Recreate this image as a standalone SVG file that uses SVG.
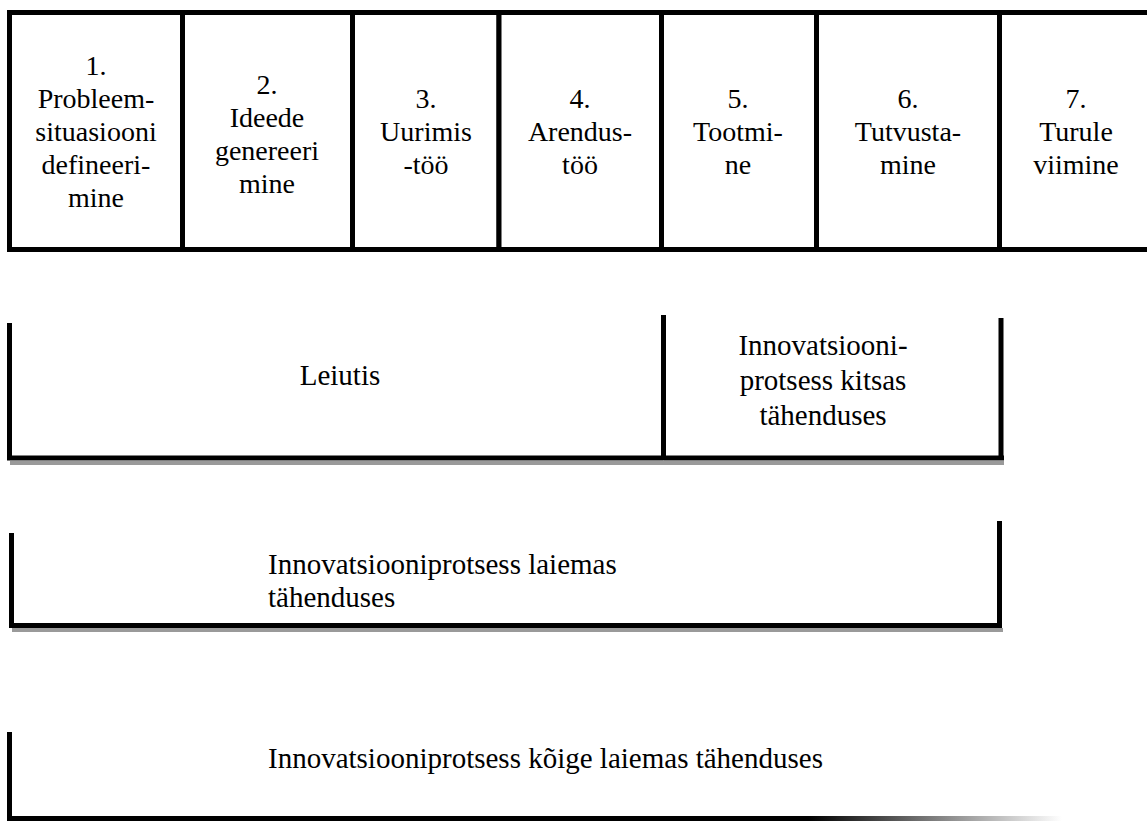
<svg xmlns="http://www.w3.org/2000/svg" width="1147" height="821" viewBox="0 0 1147 821">
<style>
  .cell { fill: #ffffff; stroke: #000000; stroke-width: 5; }
  .bar { stroke: #000000; stroke-width: 5; stroke-linecap: butt; fill: none; }
  .shadow { stroke: #9a9a9a; stroke-width: 4; fill: none; }
  .t { font-family: "Liberation Serif", "Times New Roman", serif; fill: #000000; }
  .top { font-size: 28px; text-anchor: middle; }
  .mid { font-size: 29px; }
  .c { text-anchor: middle; }
</style>
<defs>
  <linearGradient id="fade" x1="7" y1="0" x2="1062" y2="0" gradientUnits="userSpaceOnUse">
    <stop offset="0" stop-color="#000000"/>
    <stop offset="0.76" stop-color="#000000"/>
    <stop offset="1" stop-color="#ffffff"/>
  </linearGradient>
</defs>
<rect x="0" y="0" width="1147" height="821" fill="#ffffff"/>

<g id="stage1">
  <rect class="cell" x="9.5" y="12.5" width="173" height="237"/>
  <text class="t top"><tspan x="96" y="75">1.</tspan><tspan x="96" y="108">Probleem-</tspan><tspan x="96" y="141">situasiooni</tspan><tspan x="96" y="174">defineeri-</tspan><tspan x="96" y="207">mine</tspan></text>
</g>
<g id="stage2">
  <rect class="cell" x="182.5" y="12.5" width="170" height="237"/>
  <text class="t top"><tspan x="267" y="94">2.</tspan><tspan x="267" y="127">Ideede</tspan><tspan x="267" y="160">genereeri</tspan><tspan x="267" y="193">mine</tspan></text>
</g>
<g id="stage3">
  <rect class="cell" x="352.5" y="12.5" width="146.5" height="237"/>
  <text class="t top"><tspan x="426" y="108">3.</tspan><tspan x="426" y="141">Uurimis</tspan><tspan x="426" y="174">-töö</tspan></text>
</g>
<g id="stage4">
  <rect class="cell" x="499" y="12.5" width="162.5" height="237"/>
  <text class="t top"><tspan x="580" y="108">4.</tspan><tspan x="580" y="141">Arendus-</tspan><tspan x="580" y="174">töö</tspan></text>
</g>
<g id="stage5">
  <rect class="cell" x="661.5" y="12.5" width="155" height="237"/>
  <text class="t top"><tspan x="738" y="108">5.</tspan><tspan x="738" y="141">Tootmi-</tspan><tspan x="738" y="174">ne</tspan></text>
</g>
<g id="stage6">
  <rect class="cell" x="816.5" y="12.5" width="183" height="237"/>
  <text class="t top"><tspan x="908" y="108">6.</tspan><tspan x="908" y="141">Tutvusta-</tspan><tspan x="908" y="174">mine</tspan></text>
</g>
<g id="stage7">
  <rect class="cell" x="999.5" y="12.5" width="160" height="237"/>
  <text class="t top"><tspan x="1076" y="108">7.</tspan><tspan x="1076" y="141">Turule</tspan><tspan x="1076" y="174">viimine</tspan></text>
</g>

<g id="leiutis">
  <line class="shadow" x1="10" y1="463" x2="1004" y2="463"/>
  <line class="bar" x1="9.5" y1="323" x2="9.5" y2="460"/>
  <line class="bar" x1="7" y1="458" x2="663.5" y2="458"/>
  <text class="t mid c" x="340" y="385">Leiutis</text>
</g>
<g id="kitsas">
  <line class="bar" x1="663.5" y1="315" x2="663.5" y2="460"/>
  <line class="bar" x1="663.5" y1="458" x2="1004" y2="458"/>
  <line class="bar" x1="1001" y1="318" x2="1001" y2="460"/>
  <text class="t mid c"><tspan x="823" y="355">Innovatsiooni-</tspan><tspan x="823" y="390">protsess kitsas</tspan><tspan x="823" y="425">tähenduses</tspan></text>
</g>
<g id="laiemas">
  <line class="shadow" x1="12" y1="630" x2="1003" y2="630"/>
  <line class="bar" x1="11.5" y1="533" x2="11.5" y2="628"/>
  <line class="bar" x1="9" y1="625.5" x2="1002" y2="625.5"/>
  <line class="bar" x1="999.5" y1="521" x2="999.5" y2="628"/>
  <text class="t mid"><tspan x="268" y="574">Innovatsiooniprotsess laiemas</tspan><tspan x="268" y="607">tähenduses</tspan></text>
</g>
<g id="koige-laiemas">
  <line class="bar" x1="9.5" y1="732" x2="9.5" y2="821"/>
  <rect x="7" y="816" width="1055" height="5" fill="url(#fade)"/>
  <text class="t mid" x="268" y="768">Innovatsiooniprotsess kõige laiemas tähenduses</text>
</g>
</svg>
